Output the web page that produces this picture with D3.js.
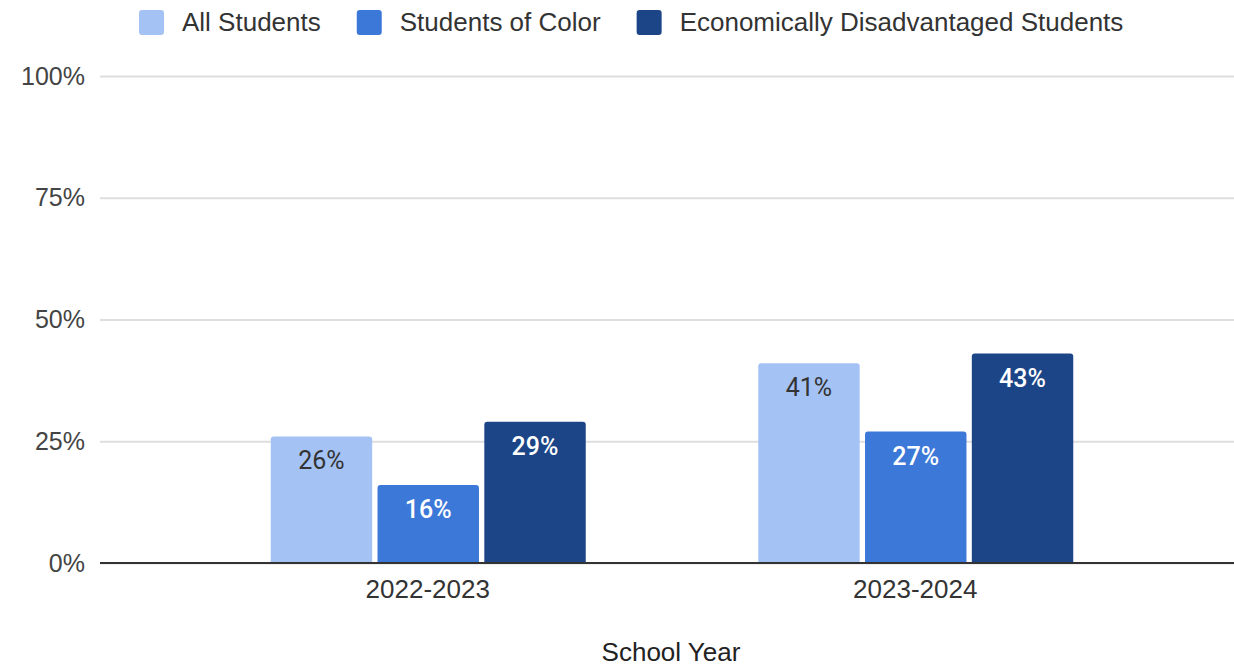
<!DOCTYPE html>
<html>
<head>
<meta charset="utf-8">
<script src="https://cdn.jsdelivr.net/npm/d3@7"></script>
<style>
  body { margin: 0; background: #fff; }
  svg text { font-family: "Liberation Sans", Arial, sans-serif; }
</style>
</head>
<body>
<div id="chart"></div>
<script>
// Width and height
var width  = 1234;
var height = 666;

// data
var years  = ["2022-2023", "2023-2024"];
var series = ["All Students", "Students of Color", "Economically Disadvantaged Students"];
var allStudents = [26, 41];
var studentsOfColor = [16, 27];
var econDisadvantaged = [29, 43];
var yTicks = [0, 25, 50, 75, 100];

var colors = ["#a4c2f4", "#3c78d8", "#1c4587"];
var labelColors = ["#333333", "#ffffff", "#ffffff"];

var values = [allStudents, studentsOfColor, econDisadvantaged];

var svg = d3.select("#chart")
    .append("svg")
    .attr("width", width)
    .attr("height", height);

// scales
var y = d3.scaleLinear()
    .domain([0, 100])
    .range([563, 76]);

var x0 = d3.scaleBand()
    .domain(years)
    .range([184, 1159]);

var x1 = d3.scaleBand()
    .domain(series)
    .range([x0.bandwidth() / 2 - 157, x0.bandwidth() / 2 + 158])
    .paddingInner(0.05);

// gridlines + y labels
var yAxis = d3.axisLeft(y)
    .tickValues(yTicks)
    .tickSize(-1134)
    .tickPadding(15)
    .tickFormat(function(d){ return d + "%"; });

var gy = svg.append("g")
    .attr("transform", "translate(100,0)")
    .call(yAxis);
gy.select(".domain").remove();
gy.selectAll(".tick line")
    .attr("stroke", "#dedede")
    .attr("stroke-width", 2);
gy.selectAll(".tick text")
    .attr("fill", "#444")
    .style("font-size", "25px");

// bars
var rows = [];
years.forEach(function(yr, i){
    series.forEach(function(s, j){
        rows.push({year: yr, series: s, value: values[j][i], idx: j});
    });
});

var bars = svg.append("g");
bars.selectAll("path")
    .data(rows)
    .enter()
    .append("path")
    .attr("d", function(d){
        var bx = x0(d.year) + x1(d.series),
            bw = x1.bandwidth(),
            top = y(d.value),
            bottom = y(0),
            r = 3;
        return "M" + bx + "," + bottom +
               "V" + (top + r) +
               "Q" + bx + "," + top + " " + (bx + r) + "," + top +
               "H" + (bx + bw - r) +
               "Q" + (bx + bw) + "," + top + " " + (bx + bw) + "," + (top + r) +
               "V" + bottom + "Z";
    })
    .style("fill", function(d){ return colors[d.idx]; });

bars.selectAll("text")
    .data(rows)
    .enter()
    .append("text")
    .attr("x", function(d){ return x0(d.year) + x1(d.series) + x1.bandwidth() / 2; })
    .attr("y", function(d){ return y(d.value) + 33; })
    .attr("text-anchor", "middle")
    .style("font-family", "Roboto, sans-serif")
    .style("font-weight", function(d){ return d.idx == 0 ? 400 : 500; })
    .style("font-size", "25px")
    .style("fill", function(d){ return labelColors[d.idx]; })
    .text(function(d){ return d.value + "%"; });

// baseline
svg.append("line")
    .attr("x1", 100)
    .attr("x2", 1234)
    .attr("y1", y(0))
    .attr("y2", y(0))
    .attr("stroke", "#333")
    .attr("stroke-width", 2);

// x labels
var xAxis = d3.axisBottom(x0).tickSize(0).tickPadding(17);
var gx = svg.append("g")
    .attr("transform", "translate(0," + y(0) + ")")
    .call(xAxis);
gx.select(".domain").remove();
gx.selectAll(".tick text")
    .attr("fill", "#333")
    .style("font-size", "26px");

svg.append("text")
    .attr("x", 671)
    .attr("y", 661)
    .attr("text-anchor", "middle")
    .style("font-size", "26px")
    .style("fill", "#222")
    .text("School Year");

// legend
var legend = svg.append("g");
var lx = 139;
series.forEach(function(s, i){
    legend.append("rect")
        .attr("x", lx)
        .attr("y", 10)
        .attr("width", 25)
        .attr("height", 25)
        .attr("rx", 3)
        .style("fill", colors[i]);
    var t = legend.append("text")
        .attr("x", lx + 43)
        .attr("y", 31)
        .style("font-size", "26px")
        .style("fill", "#333")
        .text(s);
    lx = lx + 43 + t.node().getComputedTextLength() + 36;
});
</script>
</body>
</html>
